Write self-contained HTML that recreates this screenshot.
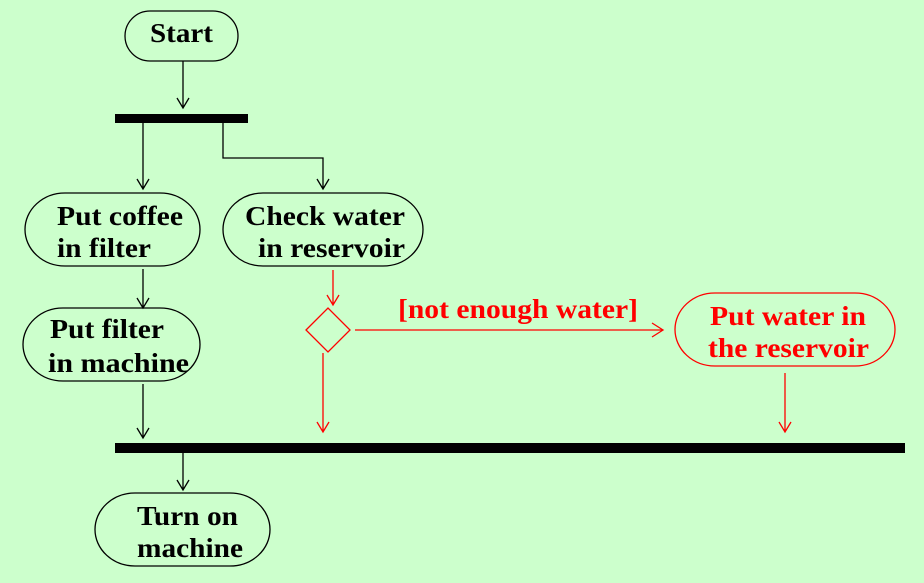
<!DOCTYPE html>
<html><head><style>
html,body{margin:0;padding:0;background:#ccffcc;}
svg{display:block;}
text{font-family:"Liberation Serif",serif;font-weight:bold;font-size:27px;}
</style></head><body>
<svg width="924" height="583" viewBox="0 0 924 583" xmlns="http://www.w3.org/2000/svg">
<rect width="924" height="583" fill="#ccffcc"/>
<g fill="none" stroke="#000" stroke-width="1.3">
<rect x="125" y="11" width="113" height="50" rx="25"/>
<rect x="25" y="193" width="175" height="73" rx="40"/>
<rect x="223" y="193" width="200" height="73" rx="40"/>
<rect x="23" y="308" width="177" height="73" rx="40"/>
<rect x="95" y="493" width="175" height="73" rx="40"/>
<path d="M183 61V108M177 98L183 108L189 98"/>
<path d="M143 123V189M137 179L143 189L149 179"/>
<path d="M223 123V158H323V189M317 179L323 189L329 179"/>
<path d="M143 269V308M137 298L143 308L149 298"/>
<path d="M143 384V438M137 428L143 438L149 428"/>
<path d="M183 453V490M177 480L183 490L189 480"/>
</g>
<rect x="115" y="114" width="133" height="9" fill="#000"/>
<rect x="115" y="443" width="790" height="10" fill="#000"/>
<g fill="none" stroke="#f00" stroke-width="1.3">
<rect x="675" y="293" width="220" height="73" rx="40"/>
<path d="M306 330L328 308L350 330L328 352Z"/>
<path d="M333 270V305M327 295L333 305L339 295"/>
<path d="M355 330H663M652 323L663 330L652 337"/>
<path d="M323 353V432M317 422L323 432L329 422"/>
<path d="M785 373V432M779 422L785 432L791 422"/>
</g>
<g fill="#000" lengthAdjust="spacingAndGlyphs">
<text x="150" y="42" textLength="63" lengthAdjust="spacingAndGlyphs">Start</text>
<text x="57" y="225" textLength="126" lengthAdjust="spacingAndGlyphs">Put coffee</text>
<text x="57" y="257" textLength="94" lengthAdjust="spacingAndGlyphs">in filter</text>
<text x="245" y="225" textLength="160" lengthAdjust="spacingAndGlyphs">Check water</text>
<text x="258" y="257" textLength="147" lengthAdjust="spacingAndGlyphs">in reservoir</text>
<text x="50" y="338" textLength="114" lengthAdjust="spacingAndGlyphs">Put filter</text>
<text x="48" y="372" textLength="141" lengthAdjust="spacingAndGlyphs">in machine</text>
<text x="137" y="525" textLength="101" lengthAdjust="spacingAndGlyphs">Turn on</text>
<text x="137" y="557" textLength="106" lengthAdjust="spacingAndGlyphs">machine</text>
</g>
<g fill="#f00">
<text x="398" y="318" textLength="240" lengthAdjust="spacingAndGlyphs">[not enough water]</text>
<text x="710" y="325" textLength="156" lengthAdjust="spacingAndGlyphs">Put water in</text>
<text x="708" y="357" textLength="161" lengthAdjust="spacingAndGlyphs">the reservoir</text>
</g>
</svg>
</body></html>
